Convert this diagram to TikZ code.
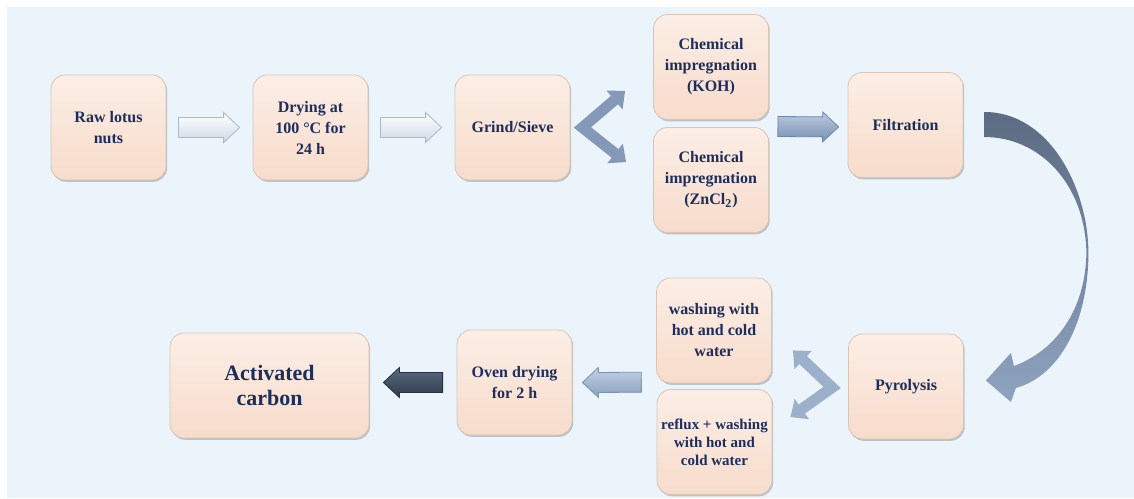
\documentclass[tikz,border=0pt]{standalone}
\usepackage{fontspec}
\setmainfont{Liberation Serif}[BoldFont={Liberation Serif Bold}]
\usetikzlibrary{calc,shadows,arrows.meta}
\definecolor{bgblue}{HTML}{EBF4FB}
\definecolor{navy}{HTML}{1E2E5C}
\definecolor{boxtop}{HTML}{FCEEE6}
\definecolor{boxbot}{HTML}{F7DCCB}
\definecolor{boxedge}{HTML}{D9C4B8}
\definecolor{wbot}{HTML}{CFDAE6}
\definecolor{wedge}{HTML}{A9B9CB}
\definecolor{btop}{HTML}{BCCBDF}
\definecolor{bbot}{HTML}{7890B2}
\definecolor{bedge}{HTML}{6E86A8}
\definecolor{ltop}{HTML}{C3D1E3}
\definecolor{lbot}{HTML}{8AA0C0}
\definecolor{ledge}{HTML}{7B92B3}
\definecolor{dtop}{HTML}{5C6B80}
\definecolor{dbot}{HTML}{2E3A4B}
\definecolor{dedge}{HTML}{273140}
\definecolor{chevA}{HTML}{8499B8}
\definecolor{chevB}{HTML}{9CB0CB}
\definecolor{ctop}{HTML}{5B6B82}
\definecolor{cbot}{HTML}{8FA3C0}
\newcommand\blockarrow[3][]{%
  \path[#1] ($(#2)!5pt!90:(#3)$) -- ($(#3)!8pt!(#2)!5pt!90:(#3)$)
    -- ($(#3)!8pt!(#2)!7.5pt!90:(#3)$) -- (#3)
    -- ($(#3)!8pt!(#2)!7.5pt!-90:(#3)$) -- ($(#3)!8pt!(#2)!5pt!-90:(#3)$)
    -- ($(#2)!5pt!-90:(#3)$) -- cycle;}
\tikzset{
  box/.style={rounded corners=7pt, top color=boxtop, bottom color=boxbot,
    draw=boxedge, line width=0.4pt, minimum width=57.5pt, minimum height=52.5pt,
    inner sep=1pt, align=center, text=navy, font=\bfseries\fontsize{8}{10.5}\selectfont,
    drop shadow={shadow xshift=0.6pt, shadow yshift=-0.9pt, opacity=0.35, fill=black!60}},
  smalltext/.style={font=\bfseries\fontsize{7.5}{9}\selectfont},
  bigtext/.style={font=\bfseries\fontsize{11}{12.5}\selectfont},
  whitearr/.style={top color=white, bottom color=wbot, draw=wedge, line width=0.4pt},
  bluearr/.style={top color=btop, bottom color=bbot, draw=bedge, line width=0.4pt},
  lbluearr/.style={top color=ltop, bottom color=lbot, draw=ledge, line width=0.4pt},
  darkarr/.style={top color=dtop, bottom color=dbot, draw=dedge, line width=0.4pt},
  chevarr/.style={line width=5.5pt, line join=miter, {Triangle[width=12pt,length=7pt]}-{Triangle[width=12pt,length=7pt]}},
}
\begin{document}
\begin{tikzpicture}[x=0.5pt,y=-0.5pt]
\useasboundingbox (0,0) rectangle (1134,498);
\fill[bgblue] (7,7) rectangle (1134,498);

% top row
\node[box] (raw) at (108.5,127.5) {Raw lotus\\nuts};
\node[box] (dry) at (310.5,127.5) {Drying at\\100 °C for\\24 h};
\node[box] (grind) at (512.5,127.5) {Grind/Sieve};
\node[box] (koh) at (711,67) {Chemical\\impregnation\\(KOH)};
\node[box] (zn) at (711,180) {Chemical\\impregnation\\(ZnCl\textsubscript{2})};
\node[box] (filt) at (905.5,125) {Filtration};
% bottom row
\node[box] (pyro) at (906,386.5) {Pyrolysis};
\node[box] (wash) at (714,330.5) {washing with\\hot and cold\\water};
\node[box, smalltext] (reflux) at (714.5,442) {reflux + washing\\with hot and\\cold water};
\node[box] (oven) at (514.5,382.5) {Oven drying\\for 2 h};
\node[box, bigtext, minimum width=99.5pt] (ac) at (269.5,385.5) {Activated\\carbon};

% straight block arrows
\coordinate (a1s) at ($(raw.east)+(12,0)$);
\coordinate (a1e) at ($(dry.west)+(-13,0)$);
\blockarrow[whitearr]{a1s}{a1e}
\coordinate (a2s) at ($(dry.east)+(12,0)$);
\coordinate (a2e) at ($(grind.west)+(-13,0)$);
\blockarrow[whitearr]{a2s}{a2e}
\coordinate (a3s) at ($($(koh.east)!0.5!(zn.east)$)+(9,3)$);
\coordinate (a3e) at ($(filt.west)+(-9,2)$);
\blockarrow[bluearr]{a3s}{a3e}
\coordinate (a4s) at ($($(wash.west)!0.5!(reflux.west)$)+(-15,-4)$);
\coordinate (a4e) at ($(oven.east)+(10,0)$);
\blockarrow[lbluearr]{a4s}{a4e}
\coordinate (a5s) at ($(oven.west)+(-14,0)$);
\coordinate (a5e) at ($(ac.east)+(14,-3)$);
\blockarrow[darkarr]{a5s}{a5e}

% chevron arrows
\coordinate (g0) at ($(grind.east)+(12,0)$);
\coordinate (g1) at ($(koh.south west)+(-28,-29)$);
\coordinate (g2) at ($(zn.north west)+(-27,35)$);
\draw[chevarr, draw=chevA] (g1) -- (g0) -- (g2);
\coordinate (p0) at ($(pyro.west)+(-16,1)$);
\coordinate (p1) at ($(wash.south east)+(21,-33)$);
\coordinate (p2) at ($(reflux.north east)+(18,28)$);
\draw[chevarr, draw=chevB] (p1) -- (p0) -- (p2);

% curved arrow from Filtration to Pyrolysis
\coordinate (cs) at ($(filt.east)+(21,0)$);
\coordinate (ce) at ($(pyro.east)+(22,-6)$);
\path[top color=ctop, bottom color=cbot]
  ($(cs)+(0,-13)$) .. controls ($(cs)+(66,-13)$) and ($(cs)+(104,65)$) .. ($(cs)+(104,128)$)
  .. controls ($(cs)+(104,195)$) and ($(ce)+(75,-5)$) .. ($(ce)+(30,7.5)$)
  -- ($(ce)+(25,21.5)$) -- (ce) -- ($(ce)+(25,-27.5)$) -- ($(ce)+(28,-14.5)$)
  .. controls ($(ce)+(70,-30)$) and ($(cs)+(101,185)$) .. ($(cs)+(102,128)$)
  .. controls ($(cs)+(101,60)$) and ($(cs)+(56,12)$) .. ($(cs)+(0,12)$) -- cycle;
\end{tikzpicture}
\end{document}
